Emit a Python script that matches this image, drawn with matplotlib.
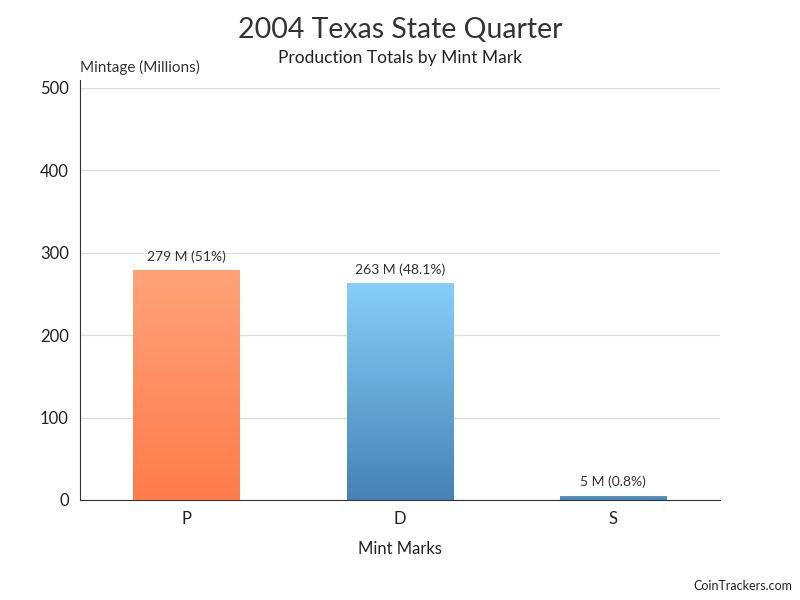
import numpy as np
import matplotlib.pyplot as plt
from matplotlib.colors import LinearSegmentedColormap

plt.rcParams['font.family'] = ['Lato', 'DejaVu Sans']

marks = ["P", "D", "S"]
mintage = [279, 263, 5]
labels = ["279 M (51%)", "263 M (48.1%)", "5 M (0.8%)"]
top_colors = ["#FFA279", "#87CEFA", "#5a96c8"]
bottom_colors = ["#FF7B4B", "#4682B4", "#4682B4"]

fig = plt.figure(figsize=(8, 6), dpi=100)
ax = fig.add_axes([0.1, 0.1667, 0.8, 0.6867])

x = np.arange(len(marks))
bars = ax.bar(x, mintage, width=0.5, color='none', zorder=3)

# vertical gradient inside each bar
grad = np.linspace(1, 0, 256).reshape(-1, 1)
for b, c1, c2 in zip(bars, top_colors, bottom_colors):
    cmap = LinearSegmentedColormap.from_list("g", [c2, c1])
    x0, y0 = b.get_x(), b.get_y()
    w, h = b.get_width(), b.get_height()
    im = ax.imshow(grad, extent=[x0, x0 + w, y0, y0 + h], cmap=cmap,
                   aspect='auto', zorder=3, vmin=0, vmax=1)
    im.set_clip_path(b)

for xi, v, t in zip(x, mintage, labels):
    ax.text(xi, v + 9, t, ha='center', va='bottom', fontsize=10, color="#333333", zorder=4)

ax.set_xlim(-0.5, 2.5)
ax.set_ylim(0, 500)
ax.set_yticks([0, 100, 200, 300, 400, 500])
ax.set_xticks(x)
ax.set_xticklabels(marks)
ax.tick_params(axis='both', length=0, labelsize=12, colors="#222222", pad=8)
ax.yaxis.grid(True, color="#dddddd", linewidth=1, zorder=0)
ax.set_axisbelow(True)
for s in ["top", "right"]:
    ax.spines[s].set_visible(False)
ax.spines["left"].set_color("#333333")
ax.spines["bottom"].set_color("#333333")
ax.spines["left"].set_bounds(0, 510)

ax.set_xlabel("Mint Marks", fontsize=12, color="#222222", labelpad=10)

fig.text(0.5, 0.95, "2004 Texas State Quarter", ha='center', va='center', fontsize=20.5, color="#333333")
fig.text(0.5, 0.903, "Production Totals by Mint Mark", ha='center', va='center', fontsize=12.5, color="#222222")
fig.text(0.1, 0.888, "Mintage (Millions)", ha='left', va='center', fontsize=11, color="#333333")
fig.text(0.99, 0.023, "CoinTrackers.com", ha='right', va='center', fontsize=9, color="#222222")

fig.savefig("out.png", dpi=100)
